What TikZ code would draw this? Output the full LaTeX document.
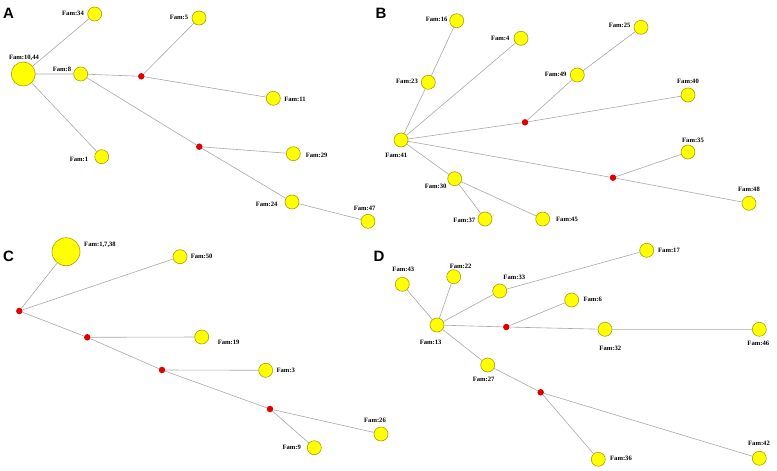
\documentclass[tikz,border=0pt]{standalone}
\usepackage{fontspec}
\setmainfont{Liberation Serif}
\newfontfamily\panelfont{Liberation Sans}
\definecolor{famyellow}{RGB}{255,255,0}
\definecolor{famborder}{RGB}{170,160,0}
\definecolor{hubred}{RGB}{225,0,0}
\definecolor{edgegray}{RGB}{168,168,168}

\begin{document}
\begin{tikzpicture}[x=1pt, y=-1pt,
        fam/.style={circle, draw=famborder, fill=famyellow, line width=.6, inner sep=0, minimum size=14},
        hub/.style={circle, fill=hubred, inner sep=0, minimum size=6.5},
        lbl/.style={inner sep=0, font=\fontsize{6.6}{8}\selectfont\bfseries},
        panel/.style={inner sep=0, font=\panelfont\fontsize{15}{18}\selectfont\bfseries},
        edge/.style={draw=edgegray, line width=.6}]
    \useasboundingbox (0, 0) rectangle (777, 471);
    % A
    \node [panel] (pA) at (8.5, 13.5) {A};
    \node [fam, minimum size=24] (a1044) at (23.3, 74) {};
    \node [fam] (a34) at (94.7, 14) {};
    \node [fam] (a8) at (80.7, 74) {};
    \node [hub] (ha1) at (141.3, 76.3) {};
    \node [fam] (a5) at (199, 18) {};
    \node [fam] (a11) at (273.3, 98.3) {};
    \node [fam] (a1) at (101.7, 156.7) {};
    \node [hub] (ha2) at (199.3, 146.7) {};
    \node [fam] (a29) at (293.3, 153.7) {};
    \node [fam] (a24) at (292, 202) {};
    \node [fam] (a47) at (368, 221.3) {};
    \draw [edge] (a1044) -- (a34) (a1044) -- (a8) (a1044) -- (a1)
        (a8) -- (ha1) (ha1) -- (a5) (ha1) -- (a11)
        (a8) -- (ha2) (ha2) -- (a29) (ha2) -- (a24) (a24) -- (a47);
    \node [lbl] (la1044) at (24, 57.5) {Fam:10,44};
    \node [lbl] (la34) at (73, 13.5) {Fam:34};
    \node [lbl] (la8) at (62, 69.5) {Fam:8};
    \node [lbl] (la5) at (179, 17.7) {Fam:5};
    \node [lbl] (la11) at (295, 99) {Fam:11};
    \node [lbl] (la1) at (79, 159.3) {Fam:1};
    \node [lbl] (la29) at (316.7, 155.3) {Fam:29};
    \node [lbl] (la24) at (266.7, 204.7) {Fam:24};
    \node [lbl] (la47) at (364.7, 208) {Fam:47};
    % B
    \node [panel] (pB) at (381, 13.5) {B};
    \node [fam] (b16) at (456.7, 20.7) {};
    \node [fam] (b4) at (521, 38.3) {};
    \node [fam] (b25) at (641, 27.3) {};
    \node [fam] (b23) at (428.3, 82.3) {};
    \node [fam] (b49) at (577.3, 75) {};
    \node [fam] (b40) at (688, 95) {};
    \node [fam] (b41) at (401, 140) {};
    \node [hub] (hb1) at (525, 122.3) {};
    \node [fam] (b35) at (688, 152) {};
    \node [hub] (hb2) at (613, 177.7) {};
    \node [fam] (b48) at (749, 203.3) {};
    \node [fam] (b30) at (454.7, 178.7) {};
    \node [fam] (b37) at (485, 219) {};
    \node [fam] (b45) at (542.7, 219) {};
    \draw [edge] (b41) -- (b23) (b23) -- (b16) (b41) -- (b4)
        (b41) -- (hb1) (hb1) -- (b49) (b49) -- (b25) (hb1) -- (b40)
        (b41) -- (hb2) (hb2) -- (b35) (hb2) -- (b48)
        (b41) -- (b30) (b30) -- (b37) (b30) -- (b45);
    \node [lbl] (lb16) at (436.7, 19.3) {Fam:16};
    \node [lbl] (lb4) at (500.3, 38.3) {Fam:4};
    \node [lbl] (lb25) at (619.7, 25.7) {Fam:25};
    \node [lbl] (lb23) at (407, 81) {Fam:23};
    \node [lbl] (lb49) at (555.7, 74.3) {Fam:49};
    \node [lbl] (lb40) at (688, 81.3) {Fam:40};
    \node [lbl] (lb41) at (396.3, 155.3) {Fam:41};
    \node [lbl] (lb35) at (693, 140) {Fam:35};
    \node [lbl] (lb48) at (749, 189.3) {Fam:48};
    \node [lbl] (lb30) at (435.7, 186) {Fam:30};
    \node [lbl] (lb37) at (464.3, 220) {Fam:37};
    \node [lbl] (lb45) at (567, 219.3) {Fam:45};
    % C
    \node [panel] (pC) at (8.5, 256) {C};
    \node [fam, minimum size=28] (c1738) at (66, 251.7) {};
    \node [fam] (c50) at (180, 256.7) {};
    \node [hub] (hc1) at (19.3, 311) {};
    \node [hub] (hc2) at (87.3, 337.3) {};
    \node [fam] (c19) at (201.7, 337) {};
    \node [hub] (hc3) at (162, 370) {};
    \node [fam] (c3) at (265.7, 370.3) {};
    \node [hub] (hc4) at (270, 409) {};
    \node [fam] (c26) at (381, 434) {};
    \node [fam] (c9) at (314.3, 447.7) {};
    \draw [edge] (hc1) -- (c1738) (hc1) -- (c50) (hc1) -- (hc2)
        (hc2) -- (c19) (hc2) -- (hc3) (hc3) -- (c3) (hc3) -- (hc4)
        (hc4) -- (c26) (hc4) -- (c9);
    \node [lbl] (lc1738) at (100, 245) {Fam:1,7,38};
    \node [lbl] (lc50) at (201.7, 256) {Fam:50};
    \node [lbl] (lc19) at (228.7, 342.3) {Fam:19};
    \node [lbl] (lc3) at (285.7, 370.3) {Fam:3};
    \node [lbl] (lc26) at (375, 420.3) {Fam:26};
    \node [lbl] (lc9) at (291.7, 447.3) {Fam:9};
    % D
    \node [panel] (pD) at (379, 256.5) {D};
    \node [fam] (d17) at (646.7, 250.3) {};
    \node [fam] (d43) at (402.3, 284.3) {};
    \node [fam] (d22) at (453.7, 276.7) {};
    \node [fam] (d33) at (499.7, 291) {};
    \node [fam] (d6) at (571.7, 300) {};
    \node [fam] (d13) at (437, 325) {};
    \node [hub] (hd1) at (506.3, 327) {};
    \node [fam] (d32) at (605, 329.3) {};
    \node [fam] (d46) at (759.3, 329.3) {};
    \node [fam] (d27) at (487.7, 365) {};
    \node [hub] (hd2) at (540.7, 392.3) {};
    \node [fam] (d36) at (598.3, 459.3) {};
    \node [fam] (d42) at (759.3, 458.3) {};
    \draw [edge] (d13) -- (d43) (d13) -- (d22) (d13) -- (d33) (d33) -- (d17)
        (d13) -- (hd1) (hd1) -- (d6) (hd1) -- (d32) (d32) -- (d46)
        (d13) -- (d27) (d27) -- (hd2) (hd2) -- (d36) (hd2) -- (d42);
    \node [lbl] (ld17) at (669, 250) {Fam:17};
    \node [lbl] (ld43) at (403.3, 269) {Fam:43};
    \node [lbl] (ld22) at (460.7, 266.7) {Fam:22};
    \node [lbl] (ld33) at (514.3, 277.3) {Fam:33};
    \node [lbl] (ld6) at (592.7, 299.3) {Fam:6};
    \node [lbl] (ld13) at (430.7, 342.3) {Fam:13};
    \node [lbl] (ld32) at (610.3, 348.3) {Fam:32};
    \node [lbl] (ld46) at (758.3, 343.3) {Fam:46};
    \node [lbl] (ld27) at (483.7, 379.3) {Fam:27};
    \node [lbl] (ld36) at (621, 458) {Fam:36};
    \node [lbl] (ld42) at (759, 443.3) {Fam:42};
\end{tikzpicture}
\end{document}
